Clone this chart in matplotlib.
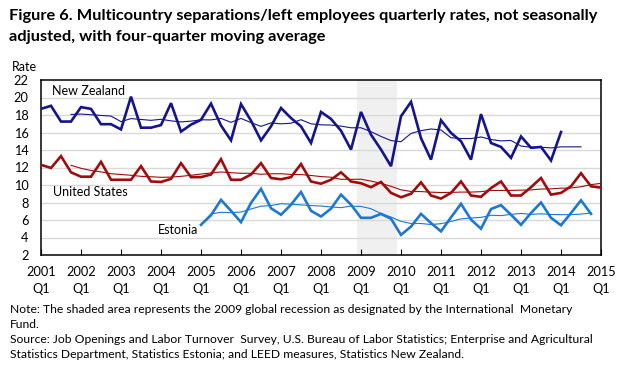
import matplotlib
matplotlib.use("Agg")
import matplotlib.pyplot as plt

plt.rcParams['font.family'] = ['Lato', 'DejaVu Sans']

W, H = 621, 378

# Quarter index 0 = 2001 Q1
nz_values = [18.7, 19.05, 17.25, 17.25, 18.9, 18.7, 16.95, 16.95, 16.35, 20.1,
             16.55, 16.55, 16.85, 19.35, 16.1, 16.9, 17.45, 19.3, 16.8, 15.1,
             19.25, 17.35, 15.1, 16.7, 18.8, 17.65, 16.7, 14.8, 18.35, 17.55,
             16.2, 14.05, 18.35, 15.75, 14.05, 12.15, 17.85, 19.5, 15.35, 12.9,
             17.4, 15.95, 15.0, 12.9, 18.1, 14.8, 14.35, 13.1, 15.55, 14.25,
             14.35, 12.8, 16.05]
nz_start = 0
nz_ma = [18.06, 18.11, 18.03, 17.95, 17.88, 17.24, 17.59, 17.49, 17.39, 17.51,
         17.33, 17.21, 17.3, 17.45, 17.44, 17.61, 17.16, 17.61, 17.13, 16.7,
         17.1, 16.99, 17.06, 17.46, 16.99, 16.88, 16.85, 16.73, 16.54, 16.54,
         16.09, 15.55, 15.08, 14.95, 15.89, 16.21, 16.4, 16.29, 15.4, 15.31,
         15.31, 15.49, 15.2, 15.04, 15.09, 14.45, 14.31, 14.31, 14.24, 14.36,
         14.36, 14.36]
nz_ma_start = 3

us_values = [12.3, 11.95, 13.3, 11.45, 10.95, 10.95, 12.65, 10.6, 10.6, 10.6,
             12.15, 10.4, 10.35, 10.7, 12.5, 10.9, 10.9, 11.2, 12.95, 10.6,
             10.6, 11.2, 12.5, 10.8, 10.65, 10.9, 12.4, 10.4, 10.15, 10.6,
             11.45, 10.4, 10.2, 9.75, 10.35, 9.1, 8.6, 9.0, 10.3, 8.8,
             8.45, 9.1, 10.4, 8.8, 8.65, 9.65, 10.4, 8.8, 8.8, 9.75,
             10.8, 8.9, 9.1, 9.85, 11.35, 9.85, 9.7]
us_start = 0
us_ma = [12.25, 11.91, 11.66, 11.5, 11.29, 11.2, 11.11, 10.99, 10.94, 10.88,
         10.9, 10.99, 11.11, 11.25, 11.38, 11.49, 11.41, 11.34, 11.34, 11.23,
         11.28, 11.29, 11.21, 11.19, 11.09, 10.96, 10.89, 10.65, 10.65, 10.66,
         10.45, 10.18, 9.85, 9.45, 9.26, 9.25, 9.18, 9.14, 9.16, 9.19,
         9.19, 9.24, 9.38, 9.38, 9.38, 9.41, 9.44, 9.54, 9.56, 9.64,
         9.66, 9.8, 10.04, 10.19]
us_ma_start = 3

ee_values = [5.45, 6.55, 8.3, 7.05, 5.75, 7.95, 9.55, 7.35, 6.6, 7.75,
             9.2, 7.05, 6.4, 7.3, 8.9, 7.75, 6.25, 6.25, 6.7, 6.15,
             4.3, 5.25, 6.7, 5.65, 4.7, 6.3, 7.85, 6.05, 5.0, 7.25,
             7.7, 6.6, 5.45, 6.8, 8.0, 6.25, 5.4, 6.8, 8.25, 6.7]
ee_start = 16
ee_ma = [5.47, 6.69, 6.88, 6.84, 6.91, 7.26, 7.58, 7.65, 7.86, 7.81,
         7.73, 7.65, 7.6, 7.49, 7.41, 7.59, 7.55, 7.29, 6.74, 6.34,
         5.85, 5.6, 5.6, 5.48, 5.58, 5.84, 6.13, 6.23, 6.3, 6.54,
         6.5, 6.64, 6.75, 6.64, 6.71, 6.63, 6.61, 6.61, 6.68, 6.79]
ee_ma_start = 16

year_labels = [str(y) for y in range(2001, 2016)]
y_ticks = list(range(2, 23, 2))
recession = (31.6, 35.6)

c_nz = '#14148c'
c_us = '#a00c0c'
c_ee = '#1c78d4'

fig = plt.figure(figsize=(W / 100, H / 100), dpi=100)
ax = fig.add_axes([41 / W, 1 - 255 / H, 560 / W, 175 / H])

ax.axvspan(*recession, color='#f0f0f0', zorder=0, lw=0)
for v in y_ticks[1:-1]:
    ax.axhline(v, color='#d9d9d9', lw=1.0, zorder=1)

def xs(start, n):
    return list(range(start, start + n))

for vals, st, ma, mst, col in [(nz_values, nz_start, nz_ma, nz_ma_start, c_nz),
                               (us_values, us_start, us_ma, us_ma_start, c_us),
                               (ee_values, ee_start, ee_ma, ee_ma_start, c_ee)]:
    ax.plot(xs(mst, len(ma)), ma, color=col, lw=0.8, zorder=3)
    ax.plot(xs(st, len(vals)), vals, color=col, lw=1.9, zorder=4,
            solid_joinstyle='miter')

ax.set_xlim(0, 56)
ax.set_ylim(2, 22)
ax.set_yticks(y_ticks)
ax.set_yticklabels([str(v) for v in y_ticks], fontsize=9.2)
ax.set_xticks(list(range(0, 57, 4)))
ax.set_xticklabels([f"{y}\nQ1" for y in year_labels], fontsize=9.2, linespacing=1.45)
ax.tick_params(axis='y', length=0, pad=9)
ax.tick_params(axis='x', direction='in', length=4.5, width=0.8, pad=8, top=False)
for s in ax.spines.values():
    s.set_linewidth(1.1)
    s.set_color('black')

ax.text(1.1, 20.7, 'New Zealand', fontsize=9, va='center', ha='left')
ax.text(1.2, 9.25, 'United States', fontsize=9, va='center', ha='left')
ax.text(11.7, 4.9, 'Estonia', fontsize=9, va='center', ha='left')

fig.text(12 / W, 1 - 67 / H, 'Rate', fontsize=9, va='center', ha='left')

fig.text(9 / W, 1 - 9 / H,
         'Figure 6. Multicountry separations/left employees quarterly rates, not seasonally\n'
         'adjusted, with four-quarter moving average',
         fontsize=11.8, fontweight='bold', va='top', ha='left', linespacing=1.65)

fig.text(10 / W, 1 - 304 / H,
         'Note: The shaded area represents the 2009 global recession as designated by the International  Monetary\n'
         'Fund.\n'
         'Source: Job Openings and Labor Turnover  Survey, U.S. Bureau of Labor Statistics; Enterprise and Agricultural\n'
         'Statistics Department, Statistics Estonia; and LEED measures, Statistics New Zealand.',
         fontsize=8.7, va='top', ha='left', linespacing=1.45)

fig.savefig('out.png', dpi=100)
